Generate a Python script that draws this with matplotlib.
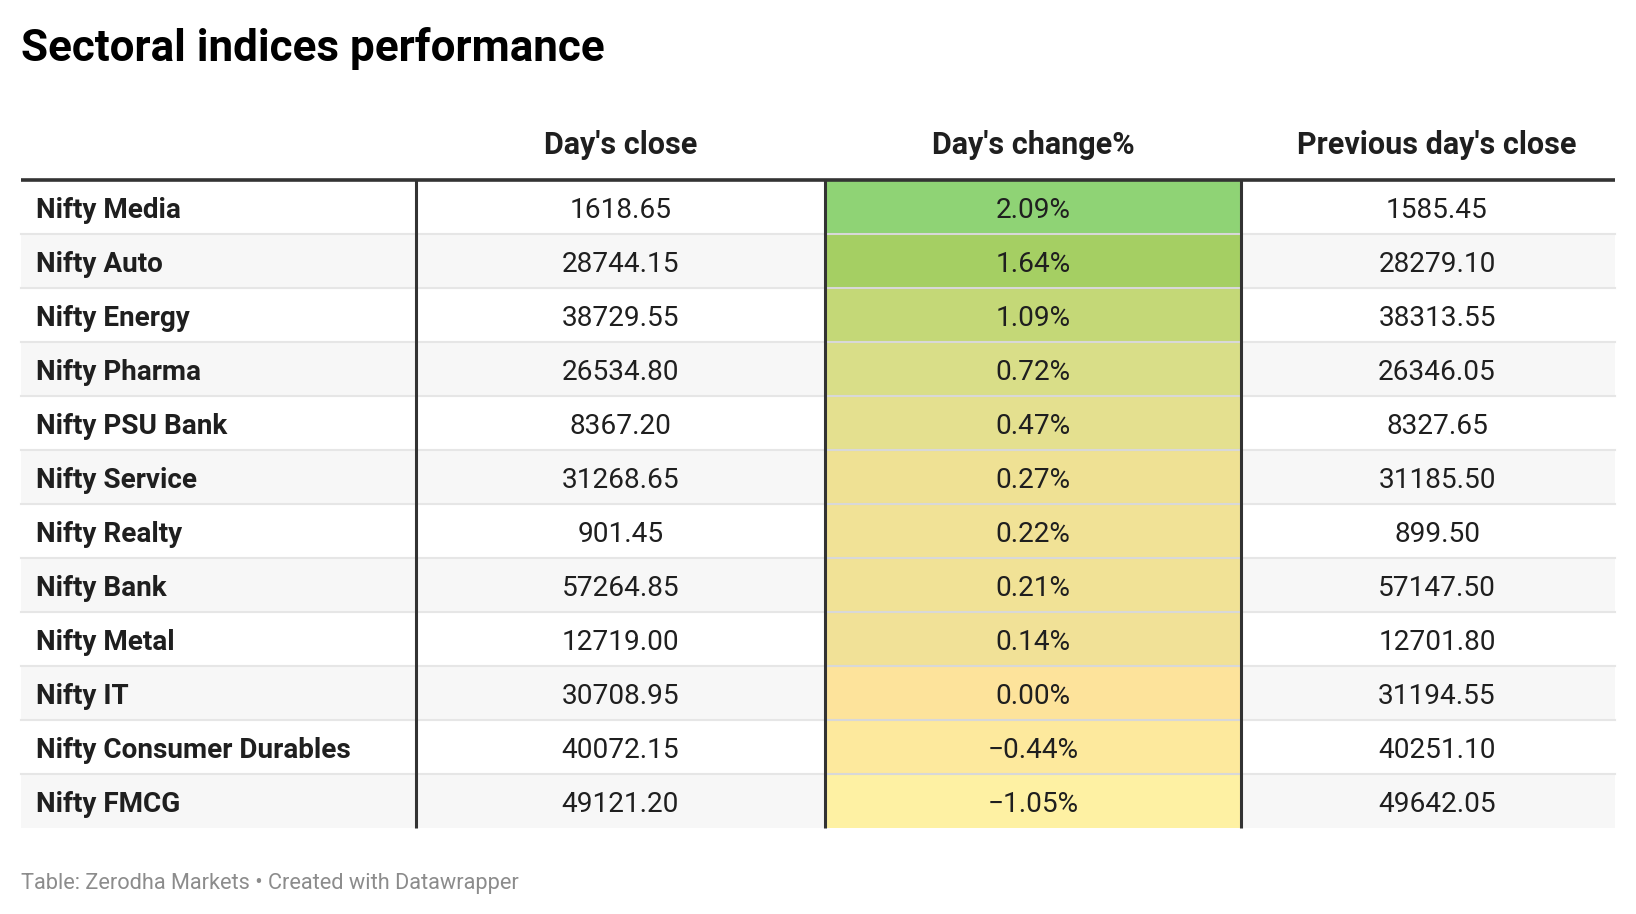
import matplotlib.pyplot as plt
from matplotlib.patches import Rectangle

plt.rcParams['font.family'] = ['Roboto', 'DejaVu Sans']

# table data
indices = ['Nifty Media', 'Nifty Auto', 'Nifty Energy', 'Nifty Pharma',
           'Nifty PSU Bank', 'Nifty Service', 'Nifty Realty', 'Nifty Bank',
           'Nifty Metal', 'Nifty IT', 'Nifty Consumer Durables', 'Nifty FMCG']
days_close = [1618.65, 28744.15, 38729.55, 26534.80, 8367.20, 31268.65,
              901.45, 57264.85, 12719.00, 30708.95, 40072.15, 49121.20]
days_change = [2.09, 1.64, 1.09, 0.72, 0.47, 0.27, 0.22, 0.21, 0.14, 0.00,
               -0.44, -1.05]
prev_close = [1585.45, 28279.10, 38313.55, 26346.05, 8327.65, 31185.50,
              899.50, 57147.50, 12701.80, 31194.55, 40251.10, 49642.05]
headers = ["", "Day's close", "Day's change%", "Previous day's close"]

# heat colours of the change column, as shown in the source
change_colors = ['#8fd375', '#a5cf63', '#c4d877', '#d9de88', '#e4e08f',
                 '#efe194', '#f1e296', '#f1e296', '#f1e197', '#fde39b',
                 '#fde99d', '#fef1a3']

W, H = 1636, 914
fig = plt.figure(figsize=(W / 100, H / 100), dpi=100)
ax = fig.add_axes([0, 0, 1, 1])
ax.set_xlim(0, W)
ax.set_ylim(H, 0)
ax.axis('off')

col_edges = [21, 416, 825, 1241, 1615]
# text centres of the value columns (last one sits a bit right)
col_centers = [None, (416 + 825) / 2, (825 + 1241) / 2, (1241 + 1615) / 2 + 9]
top = 179.5
row_h = 54.0
n = len(indices)
txt = '#1f1f1f'

ax.text(21, 48, 'Sectoral indices performance', fontsize=31.7,
        fontweight='bold', va='center', ha='left', color='#000000')

for j in range(1, 4):
    ax.text(col_centers[j], 145, headers[j], fontsize=22, fontweight='bold',
            ha='center', va='center', color=txt)

for i in range(n):
    y0 = top + i * row_h
    bg = '#f7f7f7' if i % 2 == 1 else '#ffffff'
    ax.add_patch(Rectangle((col_edges[0], y0), col_edges[4] - col_edges[0],
                           row_h, facecolor=bg, edgecolor='none', zorder=1))
    ax.add_patch(Rectangle((col_edges[2], y0), col_edges[3] - col_edges[2],
                           row_h, facecolor=change_colors[i],
                           edgecolor='none', zorder=2))
    if i > 0:
        ax.plot([col_edges[0], col_edges[4]], [y0, y0], color='#e6e6e6',
                lw=1.5, zorder=3)
        ax.plot([col_edges[2], col_edges[3]], [y0, y0], color='#000000',
                alpha=0.06, lw=1.5, zorder=3)
    cy = y0 + row_h / 2 + 4
    ax.text(col_edges[0] + 15, cy, indices[i], fontsize=20.1,
            fontweight='bold', ha='left', va='center', color=txt,
            zorder=4)
    ax.text(col_centers[1], cy, f'{days_close[i]:.2f}',
            fontsize=20.2, ha='center', va='center', color=txt, zorder=4)
    chg = f'{days_change[i]:.2f}%'.replace('-', '\u2212')
    ax.text(col_centers[2], cy, chg,
            fontsize=20.2, ha='center', va='center', color=txt, zorder=4)
    ax.text(col_centers[3], cy, f'{prev_close[i]:.2f}',
            fontsize=20.2, ha='center', va='center', color=txt, zorder=4)

bottom = top + n * row_h
for x in col_edges[1:4]:
    ax.plot([x, x], [top, bottom], color='#333333', lw=2.2,
            solid_capstyle='butt', zorder=5)
ax.plot([col_edges[0], col_edges[4]], [top, top], color='#333333', lw=2.6,
        solid_capstyle='butt', zorder=6)

ax.text(col_edges[0], 883, 'Table: Zerodha Markets \u2022 Created with Datawrapper',
        fontsize=15.7, ha='left', va='center', color='#8c8c8c')

fig.savefig('out.png', dpi=100)
